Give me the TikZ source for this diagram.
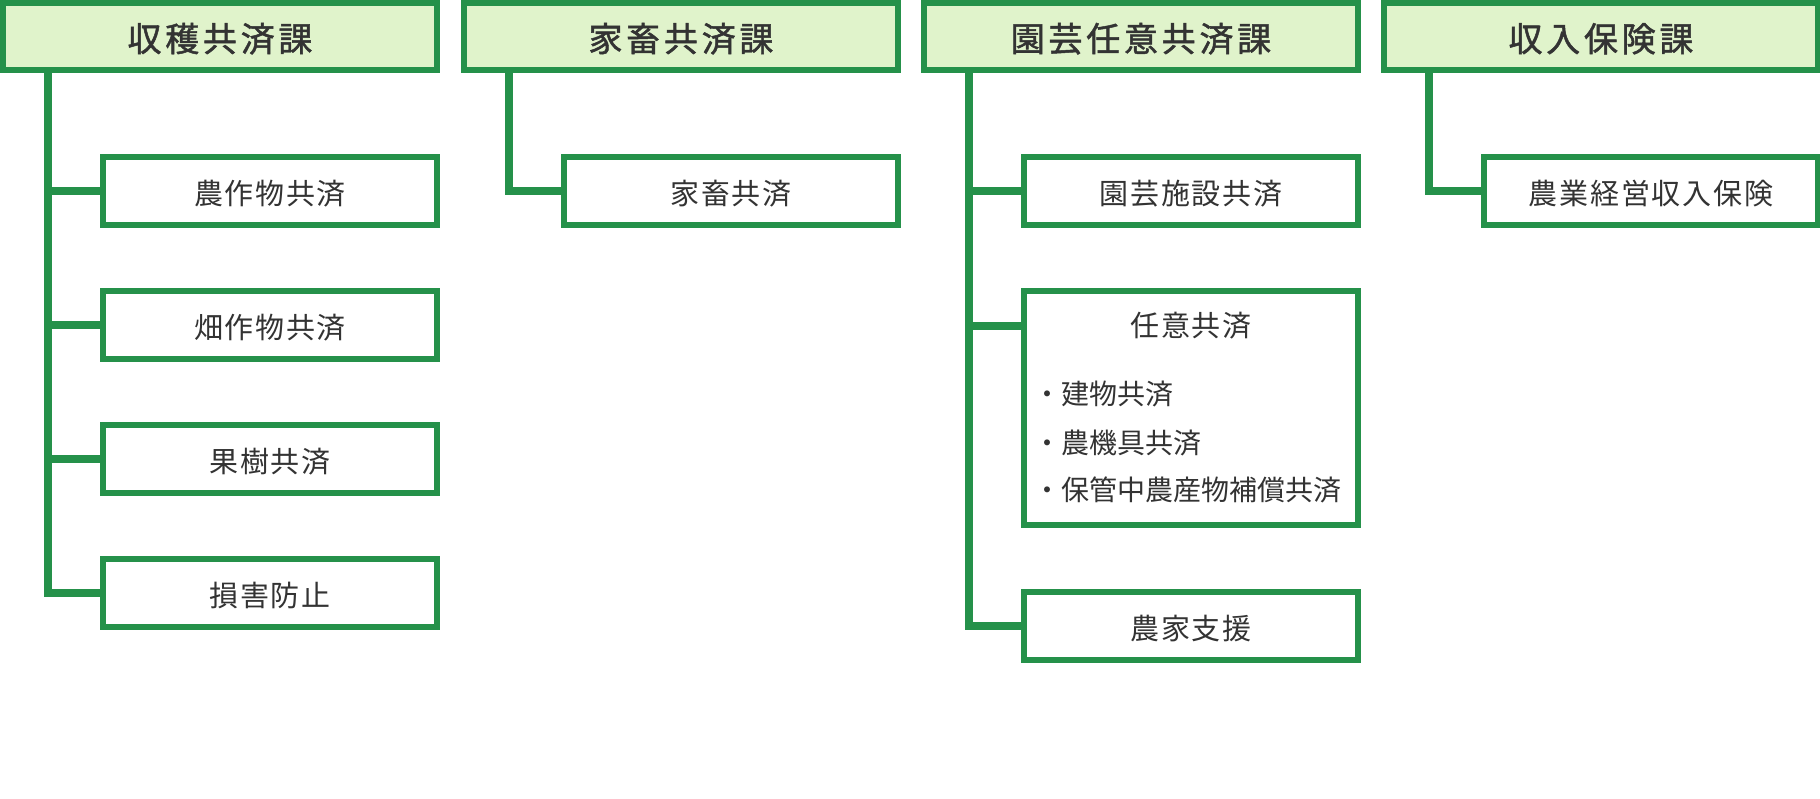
\documentclass[tikz,border=0pt]{standalone}
\usepackage{fontspec}
\newfontfamily\jp{Noto Sans CJK JP}
\newfontfamily\jphead[FakeBold=1.4, LetterSpace=11]{Noto Sans CJK JP}
\newfontfamily\jpitem[LetterSpace=6]{Noto Sans CJK JP}
\definecolor{kagreen}{HTML}{25914A}
\definecolor{kafill}{HTML}{E0F3CB}
\definecolor{katext}{HTML}{333333}
\tikzset{
  ka/.style={rectangle, draw=kagreen, line width=6pt, outer sep=0pt, inner sep=0pt, text=katext},
  kahead/.style={ka, fill=kafill, minimum width=434pt, minimum height=67pt, text height=33pt, font=\jphead\fontsize{34}{40}\selectfont},
  kaitem/.style={ka, fill=white, minimum width=334pt, minimum height=68pt, text height=29pt, font=\jpitem\fontsize{29}{34}\selectfont},
  katxt/.style={inner sep=0pt, text=katext, font=\jp\fontsize{28}{34}\selectfont},
  kalink/.style={draw=kagreen, line width=8pt},
}
\begin{document}
\begin{tikzpicture}[x=1pt, y=-1pt]
  \useasboundingbox (0,0) rectangle (1820,798);
  \node[kahead] (h1) at (220,36.5) {収穫共済課};
  \node[kahead] (h2) at (681,36.5) {家畜共済課};
  \node[kahead] (h3) at (1141,36.5) {園芸任意共済課};
  \node[kahead] (h4) at (1601,36.5) {収入保険課};
  \node[kaitem] (c11) at (270,191) {農作物共済};
  \node[kaitem] (c12) at (270,325) {畑作物共済};
  \node[kaitem] (c13) at (270,459) {果樹共済};
  \node[kaitem] (c14) at (270,593) {損害防止};
  \node[kaitem] (c21) at (731,191) {家畜共済};
  \node[kaitem] (c31) at (1191,191) {園芸施設共済};
  \node[kaitem, minimum height=234pt] (c32) at (1191,408) {};
  \node[katxt, font=\jpitem\fontsize{29}{34}\selectfont] (c32t) at (1191,326) {任意共済};
  \node[katxt, anchor=west] (c32a) at (1033,394) {・建物共済};
  \node[katxt, anchor=west] (c32b) at (1033,443) {・農機具共済};
  \node[katxt, anchor=west] (c32c) at (1033,490) {・保管中農産物補償共済};
  \node[kaitem] (c33) at (1191,626) {農家支援};
  \node[kaitem] (c41) at (1651,191) {農業経営収入保険};
  \coordinate (s1) at ([xshift=45pt]h1.south west);
  \coordinate (s2) at ([xshift=45pt]h2.south west);
  \coordinate (s3) at ([xshift=45pt]h3.south west);
  \coordinate (s4) at ([xshift=45pt]h4.south west);
  \draw[kalink] (s1) |- (c14.west);
  \draw[kalink] (s1 |- c11.west) -- (c11.west);
  \draw[kalink] (s1 |- c12.west) -- (c12.west);
  \draw[kalink] (s1 |- c13.west) -- (c13.west);
  \draw[kalink] (s2) |- (c21.west);
  \draw[kalink] (s3) |- (c33.west);
  \draw[kalink] (s3 |- c31.west) -- (c31.west);
  \draw[kalink] (s3 |- c32t) -- (c32t -| c32.west);
  \draw[kalink] (s4) |- (c41.west);
\end{tikzpicture}
\end{document}
